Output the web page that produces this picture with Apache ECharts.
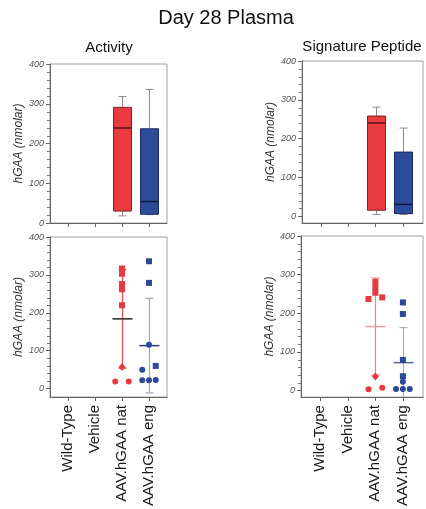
<!DOCTYPE html>
<html lang="en" style="height: 100%">
<head>
    <meta charset="utf-8">
    <title>Day 28 Plasma</title>
    <script src="https://cdn.jsdelivr.net/npm/echarts@6/dist/echarts.min.js"></script>
</head>
<body style="margin: 0; height: 100%">
<div id="main" style="width: 426px; height: 509px"></div>
<script type="text/javascript">
    var groups = ['Wild-Type', 'Vehicle', 'AAV.hGAA nat', 'AAV.hGAA eng'];
    var yTicks = [0, 100, 200, 300, 400];
    var yMinorTicks = [20, 40, 60, 80, 120, 140, 160, 180, 220, 240, 260, 280, 320, 340, 360, 380];

    // box plots: [group, min, q1, median, q3, max]
    var activityBox = [[2, 18, 30, 239, 291, 318], [3, 21, 22, 54, 237, 336]];
    var peptideBox = [[2, 4, 15, 240, 258, 281], [3, 4, 6, 30, 165, 227]];

    // single animals (s = square, d = diamond, c = circle)
    var activityNat = [317, 303, 276, 262, 220, 57, 19, 19];
    var activityNatMark = ['s', 's', 's', 's', 's', 'd', 'c', 'c'];
    var activityEng = [336, 279, 116, 60, 50, 22, 23, 22];
    var activityEngMark = ['s', 's', 'c', 's', 'c', 'c', 'c', 'c'];
    var peptideNat = [281, 267, 253, 241, 237, 36, 7, 3];
    var peptideNatMark = ['s', 's', 's', 's', 's', 'd', 'c', 'c'];
    var peptideEng = [228, 198, 79, 37, 23, 4, 4, 4];
    var peptideEngMark = ['s', 's', 's', 's', 'c', 'c', 'c', 'c'];

    var RED = '#e63a40', BLUE = '#2b4899';
    var boxColors = {
        2: {fill: '#ea3b41', edge: '#7d2326', med: '#5e1417'},
        3: {fill: '#2d4b9b', edge: '#1c2b5e', med: '#111a3c'}
    };
    var symbols = {s: 'rect', d: 'diamond', c: 'circle'};
    var symbolSizes = {s: 6, d: [7, 8], c: 6};

    // layout of the 4 panels
    var panels = [
        {grid: {left: 50, top: 64, width: 117, height: 159}, x: [-0.667, 3.667], y: [0, 400], gap: 18, labels: false},
        {grid: {left: 302, top: 61, width: 121, height: 162}, x: [-0.7, 3.73], y: [-18, 400], gap: 24, labels: false},
        {grid: {left: 50, top: 237, width: 117, height: 160}, x: [-0.667, 3.667], y: [-22, 400], gap: 21, labels: true},
        {grid: {left: 301, top: 236, width: 122, height: 162}, x: [-0.7, 3.73], y: [-17, 400], gap: 17, labels: true}
    ];

    // spread points with close values sideways, like a dot plot
    function spread(vals) {
        var idx = vals.map(function (v, i) { return i; }).sort(function (a, b) { return vals[a] - vals[b]; });
        var off = [];
        var run = [idx[0]];
        function flush() {
            run.forEach(function (k, j) {
                off[k] = run.length > 1 ? -0.25 + 0.5 * j / (run.length - 1) : 0;
            });
        }
        for (var i = 1; i < idx.length; i++) {
            if (vals[idx[i]] - vals[idx[i - 1]] < 12) run.push(idx[i]);
            else { flush(); run = [idx[i]]; }
        }
        flush();
        return off;
    }

    function meanSd(vals) {
        var m = vals.reduce(function (a, b) { return a + b; }, 0) / vals.length;
        var ss = vals.reduce(function (a, b) { return a + (b - m) * (b - m); }, 0);
        return [m, Math.sqrt(ss / (vals.length - 1))];
    }

    // small ticks on the left axis between the labelled ones
    function minorTickSeries(p) {
        return {
            type: 'custom', xAxisIndex: p, yAxisIndex: p, z: 5, silent: true, clip: false,
            data: yMinorTicks.map(function (v) { return [panels[p].x[0], v]; }),
            renderItem: function (params, api) {
                var pt = api.coord([api.value(0), api.value(1)]);
                var y = Math.round(pt[1]) + 0.5;
                return {type: 'line', shape: {x1: pt[0] - 3, y1: y, x2: pt[0], y2: y},
                    style: {stroke: '#777', lineWidth: 1}};
            }
        };
    }

    function boxSeries(p, data) {
        return {
            type: 'custom', xAxisIndex: p, yAxisIndex: p, data: data, z: 2,
            renderItem: function (params, api) {
                var g = api.value(0);
                var c = boxColors[g];
                var lo = api.coord([g, api.value(1)]), q1 = api.coord([g, api.value(2)]);
                var md = api.coord([g, api.value(3)]), q3 = api.coord([g, api.value(4)]);
                var hi = api.coord([g, api.value(5)]);
                var cx = Math.round(lo[0]) + 0.5, hw = 9, cw = 4;
                var wl = {stroke: '#8c8c8c', lineWidth: 1};
                return {
                    type: 'group', children: [
                        {type: 'line', shape: {x1: cx, y1: hi[1], x2: cx, y2: q3[1]}, style: wl},
                        {type: 'line', shape: {x1: cx - cw, y1: hi[1], x2: cx + cw, y2: hi[1]}, style: wl},
                        {type: 'line', shape: {x1: cx, y1: lo[1], x2: cx, y2: q1[1]}, style: wl},
                        {type: 'line', shape: {x1: cx - cw, y1: lo[1], x2: cx + cw, y2: lo[1]}, style: wl},
                        {type: 'rect', shape: {x: cx - hw, y: q3[1], width: hw * 2, height: q1[1] - q3[1]},
                            style: {fill: c.fill, stroke: c.edge, lineWidth: 1}},
                        {type: 'line', shape: {x1: cx - hw, y1: md[1], x2: cx + hw, y2: md[1]},
                            style: {stroke: c.med, lineWidth: 1.5}}
                    ]
                };
            }
        };
    }

    function statSeries(p, g, vals, barColor, meanColor) {
        var ms = meanSd(vals);
        return {
            type: 'custom', xAxisIndex: p, yAxisIndex: p, z: 2, clip: true,
            data: [[g, ms[0], ms[1]]],
            renderItem: function (params, api) {
                var x = api.value(0), m = api.value(1), s = api.value(2);
                var top = api.coord([x, m + s]), bot = api.coord([x, m - s]), mid = api.coord([x, m]);
                var cx = Math.round(mid[0]) + 0.5;
                var bs = {stroke: barColor, lineWidth: 1.2};
                return {
                    type: 'group', children: [
                        {type: 'line', shape: {x1: cx, y1: top[1], x2: cx, y2: bot[1]}, style: bs},
                        {type: 'line', shape: {x1: cx - 4, y1: top[1], x2: cx + 4, y2: top[1]}, style: bs},
                        {type: 'line', shape: {x1: cx - 4, y1: bot[1], x2: cx + 4, y2: bot[1]}, style: bs},
                        {type: 'line', shape: {x1: cx - 10, y1: mid[1], x2: cx + 10, y2: mid[1]},
                            style: {stroke: meanColor, lineWidth: 1.5}}
                    ]
                };
            }
        };
    }

    function dotSeries(p, g, vals, marks, color) {
        var off = spread(vals);
        return {
            type: 'scatter', xAxisIndex: p, yAxisIndex: p, z: 3,
            data: vals.map(function (v, i) { return [g + off[i], v, marks[i]]; }),
            symbol: function (val) { return symbols[val[2]]; },
            symbolSize: function (val) { return symbolSizes[val[2]]; },
            itemStyle: {color: color, opacity: 1},
            emphasis: {disabled: true}
        };
    }

    var chart = echarts.init(document.getElementById('main'));
    var option = {
        animation: false,
        textStyle: {fontFamily: 'Liberation Sans, Arial, sans-serif'},
        graphic: [
            {type: 'text', x: 226, y: 18, style: {text: 'Day 28 Plasma', font: '20px Liberation Sans', fill: '#111', textAlign: 'center', textVerticalAlign: 'middle'}},
            {type: 'text', x: 109, y: 48, style: {text: 'Activity', font: '15px Liberation Sans', fill: '#111', textAlign: 'center', textVerticalAlign: 'middle'}},
            {type: 'text', x: 362, y: 47, style: {text: 'Signature Peptide', font: '15px Liberation Sans', fill: '#111', textAlign: 'center', textVerticalAlign: 'middle'}}
        ],
        grid: panels.map(function (p) {
            return Object.assign({show: true, borderColor: '#a0a0a0', borderWidth: 1, backgroundColor: 'transparent'}, p.grid);
        }),
        xAxis: panels.map(function (p, i) {
            return {
                type: 'value', gridIndex: i, min: p.x[0], max: p.x[1],
                axisLine: {show: true, onZero: false, lineStyle: {color: '#666'}},
                splitLine: {show: false},
                axisTick: {show: true, customValues: [0, 1, 2, 3], length: 4, lineStyle: {color: '#666'}},
                axisLabel: {
                    show: p.labels, customValues: [0, 1, 2, 3], rotate: 90, margin: 8,
                    fontSize: 15, color: '#1a1a1a',
                    formatter: function (v) { return groups[Math.round(v)]; }
                }
            };
        }),
        yAxis: panels.map(function (p, i) {
            return {
                type: 'value', gridIndex: i, position: 'left', min: p.y[0], max: p.y[1],
                name: 'hGAA (nmolar)', nameLocation: 'middle', nameGap: p.gap,
                nameTextStyle: {fontStyle: 'italic', fontSize: 12, color: '#333'},
                axisLine: {show: true, onZero: false, lineStyle: {color: '#666'}},
                splitLine: {show: false},
                axisTick: {show: true, customValues: yTicks, length: 4, lineStyle: {color: '#666'}},
                axisLabel: {customValues: yTicks, fontStyle: 'italic', fontSize: 9, color: '#555', margin: 6}
            };
        }),
        series: [
            minorTickSeries(0),
            minorTickSeries(1),
            minorTickSeries(2),
            minorTickSeries(3),
            boxSeries(0, activityBox),
            boxSeries(1, peptideBox),
            statSeries(2, 2, activityNat, '#e8474c', '#222222'),
            statSeries(2, 3, activityEng, '#a3a9c2', '#2a3a78'),
            statSeries(3, 2, peptideNat, '#ee8080', '#eba0a0'),
            statSeries(3, 3, peptideEng, '#a8acbf', '#5d6790'),
            dotSeries(2, 2, activityNat, activityNatMark, RED),
            dotSeries(2, 3, activityEng, activityEngMark, BLUE),
            dotSeries(3, 2, peptideNat, peptideNatMark, RED),
            dotSeries(3, 3, peptideEng, peptideEngMark, BLUE)
        ]
    };
    chart.setOption(option);
</script>
</body>
</html>
